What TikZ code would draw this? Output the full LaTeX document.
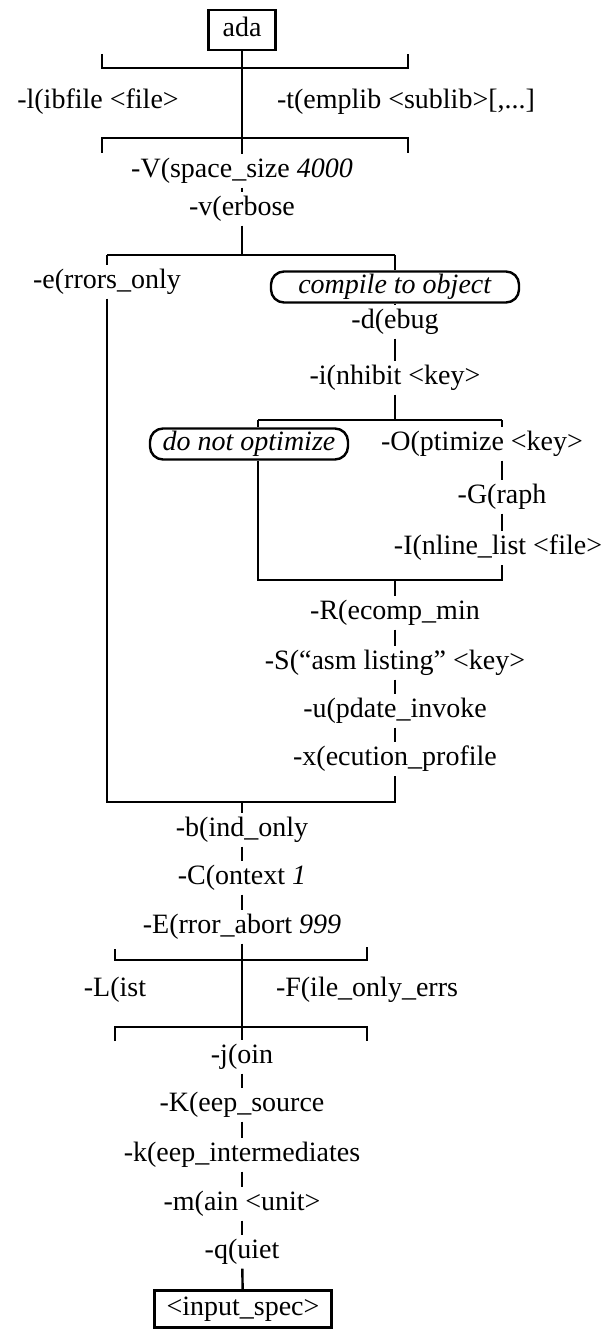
\documentclass[tikz,border=0pt]{standalone}
\usepackage{fontspec}
\setmainfont{Liberation Serif}
\begin{document}
\begin{tikzpicture}[x=1pt,y=-1pt,line width=2.4pt,
  lbl/.style={inner xsep=1pt,inner ysep=3pt,font=\fontsize{28}{32}\selectfont,text height=19pt,text depth=6pt},
  sq/.style={lbl,draw,inner xsep=14pt,minimum height=40pt},
  rnd/.style={lbl,draw,rounded corners=13pt,inner ysep=2pt,minimum height=31pt}]
\useasboundingbox (0,0) rectangle (610,1329);
% top
\node[sq] (ada) at (242,30) {ada};
% branch 1
\coordinate (b1tl) at (102,68); \coordinate (b1tr) at (408,68);
\coordinate (b1bl) at (102,138); \coordinate (b1br) at (408,138);
\node[lbl] (lib) at (98,102) {-l(ibfile <file>};
\node[lbl] (tmp) at (406,102) {-t(emplib <sublib>[,...]};
\draw ([yshift=14pt]b1tl) -- (b1tl) -- (b1tr) -- ([yshift=14pt]b1tr);
\draw ([yshift=-15pt]b1bl) -- (b1bl) -- (b1br) -- ([yshift=-15pt]b1br);
\node[lbl] (V) at (242,171) {-V(space\_size \textit{4000}};
\draw (ada) -- (V);
\node[lbl] (v) at (242,209) {-v(erbose};
\draw (V) -- (v);
% branch 2
\coordinate (b2l) at (107,255); \coordinate (b2m) at (242,255); \coordinate (b2r) at (395,255);
\draw (v) -- (b2m);
\draw (b2l) -- (b2r);
\node[lbl] (err) at (107,282) {-e(rrors\_only};
\draw (b2l) -- (err);
\node[rnd,minimum width=248pt] (cto) at (395,287) {\textit{compile to object}};
\draw (b2r) -- (cto);
\node[lbl] (dbg) at (395,322) {-d(ebug};
\draw (cto) -- (dbg);
\node[lbl] (inh) at (395,378) {-i(nhibit <key>};
\draw (dbg) -- (inh);
% branch 3
\coordinate (b3l) at (258,420); \coordinate (b3m) at (395,420); \coordinate (b3r) at (502,420);
\draw (inh) -- (b3m);
\draw (b3l) -- (b3r);
\node[rnd,minimum width=198pt] (dno) at (249,444) {\textit{do not optimize}};
\draw (b3l) -- (b3l |- dno.north);
\node[lbl] (opt) at (482,444) {-O(ptimize <key>};
\draw (b3r) -- (b3r |- opt.north);
\node[lbl] (gra) at (502,497) {-G(raph};
\draw (b3r |- opt.south) -- (gra);
\node[lbl] (inl) at (498,548) {-I(nline\_list <file>};
\draw (gra) -- (b3r |- inl.north);
\coordinate (b3bl) at (258,580); \coordinate (b3bm) at (395,580); \coordinate (b3br) at (502,580);
\draw (b3l |- dno.south) -- (b3bl) -- (b3br) -- (b3r |- inl.south);
\node[lbl] (rec) at (395,613) {-R(ecomp\_min};
\draw (b3bm) -- (rec);
\node[lbl] (asm) at (395,663) {-S(“asm listing” <key>};
\draw (rec) -- (asm);
\node[lbl] (upd) at (395,711) {-u(pdate\_invoke};
\draw (asm) -- (upd);
\node[lbl] (exe) at (395,759) {-x(ecution\_profile};
\draw (upd) -- (exe);
\coordinate (b2bl) at (107,802); \coordinate (b2bm) at (242,802); \coordinate (b2br) at (395,802);
\draw (err) -- (b2bl) -- (b2br) -- (exe);
% lower chain
\node[lbl] (bnd) at (242,830) {-b(ind\_only};
\draw (b2bm) -- (bnd);
\node[lbl] (ctx) at (242,878) {-C(ontext \textit{1}};
\draw (bnd) -- (ctx);
\node[lbl] (eab) at (242,927) {-E(rror\_abort \textit{999}};
\draw (ctx) -- (eab);
% branch 4
\coordinate (b4tl) at (115,960); \coordinate (b4tr) at (367,960);
\coordinate (b4bl) at (115,1027); \coordinate (b4br) at (367,1027);
\node[lbl] (lst) at (115,990) {-L(ist};
\node[lbl] (fil) at (367,990) {-F(ile\_only\_errs};
\draw ([yshift=11pt]b4tl) -- (b4tl) -- (b4tr) -- ([yshift=13pt]b4tr);
\draw ([yshift=-14pt]b4bl) -- (b4bl) -- (b4br) -- ([yshift=-14pt]b4br);
\node[lbl] (joi) at (242,1057) {-j(oin};
\draw (eab) -- (joi);
\node[lbl] (kso) at (242,1105) {-K(eep\_source};
\draw (joi) -- (kso);
\node[lbl] (kin) at (242,1155) {-k(eep\_intermediates};
\draw (kso) -- (kin);
\node[lbl] (mai) at (242,1204) {-m(ain <unit>};
\draw (kin) -- (mai);
\node[lbl] (qui) at (242,1252) {-q(uiet};
\draw (mai) -- (qui);
\node[sq,minimum height=37pt,inner xsep=12pt] (inp) at (243,1309) {<input\_spec>};
\draw (qui) -- (inp);
\end{tikzpicture}
\end{document}
